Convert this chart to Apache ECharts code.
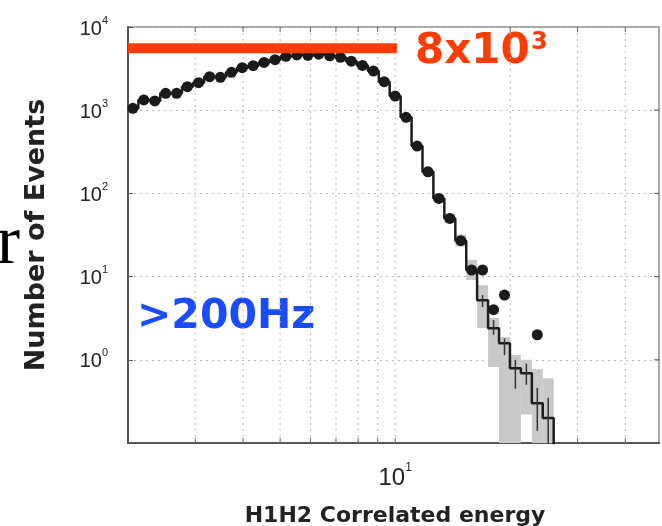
<!DOCTYPE html>
<html><head><meta charset="utf-8">
<script src="https://cdn.jsdelivr.net/npm/echarts@6/dist/echarts.min.js"></script>
<style>html,body{margin:0;padding:0;background:#fff}#c{width:662px;height:526px}</style>
</head><body><div id="c"></div>
<script>
// Bin centres (H1H2 correlated energy)
const binCenters = [2.06,2.20,2.35,2.51,2.68,2.86,3.06,3.27,3.49,3.73,3.98,4.25,4.54,4.85,5.18,5.53,5.91,6.31,6.74,7.19,7.68,8.21,8.77,9.36,10.0,10.68,11.41,12.18,13.01,13.90,14.85,15.85,16.93,18.09,19.32,20.63,22.04,23.54,25.14,26.85];
// Observed event counts (dots); null = no dot
const dataCounts = [1054,1327,1291,1596,1596,1915,2141,2527,2485,2856,3243,3428,3750,4050,4440,4610,4560,4720,4500,4330,3880,3450,2960,2200,1480,822,371,182,87,50,27,12,12,4,6,null,null,2,null,null];
// Histogram (step line) values; last bin empty (below axis)
const modelCounts = [1054,1327,1291,1596,1596,1915,2141,2527,2485,2856,3243,3428,3750,4050,4440,4610,4560,4720,4500,4330,3880,3450,2960,2200,1480,822,371,182,87,50,27,12,5.2,2.4,1.58,0.79,0.69,0.30,0.20,0.001];
// Grey uncertainty band per bin
const bandLow  = [null,null,null,null,null,null,null,null,null,null,null,null,null,null,null,null,null,null,null,null,null,null,null,null,null,null,null,null,78,44,23,9.1,2.4,0.82,0,0,0.22,0,0,null];
const bandHigh = [null,null,null,null,null,null,null,null,null,null,null,null,null,null,null,null,null,null,null,null,null,null,null,null,null,null,null,null,97,57,32,15.9,7.9,3.2,1.88,1.14,1.0,0.77,0.6,null];
// Vertical error bars per bin
const errLow  = [null,null,null,null,null,null,null,null,null,null,null,null,null,null,null,null,null,null,null,null,null,null,null,null,null,null,null,null,null,null,null,null,4.3,2.0,1.14,0.45,0.5,0.14,0,null];
const errHigh = [null,null,null,null,null,null,null,null,null,null,null,null,null,null,null,null,null,null,null,null,null,null,null,null,null,null,null,null,null,null,null,null,6.0,3.0,1.8,1.0,0.9,0.46,0.35,null];
// Reference level (red bar)
const refLevel = 5550;
const refRange = [2, 10.1];
// Axis ranges and grid values
const xRange = [2, 49];
const yRange = [0.1, 10000];
const xGridValues = [3,4,5,6,7,8,9,10,20,30,40];
const yDecades = [1,10,100,1000];

const chart = echarts.init(document.getElementById('c'));

const edgeL = i => i > 0 ? Math.sqrt(binCenters[i-1]*binCenters[i]) : binCenters[i];
const edgeR = i => i < binCenters.length-1 ? Math.sqrt(binCenters[i]*binCenters[i+1]) : binCenters[i];

const bandData = [];
bandHigh.forEach((h,i)=>{ if(h!=null) bandData.push([edgeL(i), edgeR(i), bandLow[i], h]); });
const errData = [];
errHigh.forEach((h,i)=>{ if(h!=null) errData.push([binCenters[i], errLow[i], h]); });
const dotData = [];
dataCounts.forEach((v,i)=>{ if(v!=null) dotData.push([binCenters[i], v]); });
const stepData = modelCounts.map((v,i)=>[binCenters[i], v]);

const yRich = {
  b:{fontFamily:'Liberation Sans, Arial', fontSize:20, color:'#222', verticalAlign:'bottom', lineHeight:24},
  s:{fontFamily:'Liberation Sans, Arial', fontSize:11, color:'#222', verticalAlign:'top', lineHeight:11}
};
const xRich = {
  b:{fontFamily:'Liberation Sans, Arial', fontSize:24, color:'#222', verticalAlign:'bottom', lineHeight:28},
  s:{fontFamily:'Liberation Sans, Arial', fontSize:12, color:'#222', verticalAlign:'top', lineHeight:12}
};
const expLabel = v => {
  const e = Math.round(Math.log10(v));
  return '{b|10}{s|' + e + '}';
};

chart.setOption({
  animation:false,
  backgroundColor:'#fff',
  grid:{left:128, right:2, top:27, bottom:83, show:true, borderColor:'#8a8a8a', borderWidth:1.5},
  xAxis:{type:'log', logBase:10, min:xRange[0], max:xRange[1],
    axisLine:{lineStyle:{color:'#555', width:2}},
    axisTick:{show:false}, splitLine:{show:false}, minorTick:{show:false},
    axisLabel:{margin:19, rich:xRich, formatter:v=>{
      const l = Math.log10(v); return Math.abs(l-Math.round(l))<1e-6 ? expLabel(v) : '';
    }}
  },
  yAxis:{type:'log', logBase:10, min:yRange[0], max:yRange[1],
    axisLine:{lineStyle:{color:'#555', width:2}},
    axisTick:{show:true, inside:true, length:5, lineStyle:{color:'#555'}},
    splitLine:{show:true, lineStyle:{color:'#b8b8b8', type:[2,4], width:1}},
    axisLabel:{margin:20, rich:yRich, formatter:v=> v < 0.5 ? '' : expLabel(v)}
  },
  series:[
    {type:'custom', z:1, silent:true, data:xGridValues.map(v=>[v, 1]),
     encode:{x:0, y:1},
     renderItem:(params, api)=>{
       const t = api.coord([api.value(0), yRange[1]]);
       const b = api.coord([api.value(0), yRange[0]]);
       return {type:'group', children:[
         {type:'line', shape:{x1:t[0],y1:t[1],x2:b[0],y2:b[1]}, style:{stroke:'#b8b8b8', lineWidth:1, lineDash:[2,4]}},
         {type:'line', shape:{x1:b[0],y1:b[1],x2:b[0],y2:b[1]-5}, style:{stroke:'#666', lineWidth:1}},
         {type:'line', shape:{x1:t[0],y1:t[1],x2:t[0],y2:t[1]+5}, style:{stroke:'#666', lineWidth:1}}
       ]};
     }},
    {type:'custom', z:1, silent:true, data:yDecades.map(v=>[xRange[1], v]),
     encode:{x:0, y:1},
     renderItem:(params, api)=>{
       const r = api.coord([xRange[1], api.value(1)]);
       return {type:'line', shape:{x1:r[0],y1:r[1],x2:r[0]-5,y2:r[1]}, style:{stroke:'#555', lineWidth:1}};
     }},
    {type:'custom', z:2, silent:true, data:bandData,
     encode:{x:[0,1], y:[2,3]},
     renderItem:(params, api)=>{
       const p1 = api.coord([api.value(0), api.value(3)]);
       const p2 = api.coord([api.value(1), Math.max(api.value(2), yRange[0])]);
       const rect = echarts.graphic.clipRectByRect({x:p1[0], y:p1[1], width:p2[0]-p1[0], height:p2[1]-p1[1]},
         {x:params.coordSys.x, y:params.coordSys.y, width:params.coordSys.width, height:params.coordSys.height});
       return rect && {type:'rect', shape:rect, style:{fill:'#c9c9c9'}};
     }},
    {type:'line', z:3, step:'middle', data:stepData, symbol:'none', clip:true,
     lineStyle:{color:'#1e1e1e', width:2.5}},
    {type:'custom', z:4, silent:true, data:errData,
     encode:{x:0, y:[1,2]},
     renderItem:(params, api)=>{
       const t = api.coord([api.value(0), api.value(2)]);
       const b = api.coord([api.value(0), Math.max(api.value(1), yRange[0])]);
       return {type:'line', shape:{x1:t[0],y1:t[1],x2:b[0],y2:b[1]}, style:{stroke:'#333', lineWidth:1.5}};
     }},
    {type:'scatter', z:5, data:dotData, symbol:'circle', symbolSize:11,
     itemStyle:{color:'#1a1a1a', opacity:1}},
    {type:'line', z:6, data:[[refRange[0], refLevel],[refRange[1], refLevel]], symbol:'none',
     lineStyle:{color:'#ff3c00', width:10, cap:'butt'}}
  ],
  graphic:[
    {type:'text', x:37, y:235, rotation:Math.PI/2, style:{text:'Number of Events', font:'bold 27px "DejaVu Sans"', fill:'#222', align:'center', verticalAlign:'middle'}},
    {type:'text', x:395, y:516, style:{text:'H1H2 Correlated energy', font:'bold 22px "DejaVu Sans"', fill:'#222', align:'center', verticalAlign:'middle'}},
    {type:'text', x:137, y:317, style:{text:'>200Hz', font:'bold 41px "DejaVu Sans"', fill:'#1a4cff', align:'left', verticalAlign:'middle'}},
    {type:'text', x:415, y:52, style:{text:'8x10', font:'bold 42px "DejaVu Sans"', fill:'#ff3c00', align:'left', verticalAlign:'middle'}},
    {type:'text', x:531, y:43, style:{text:'3', font:'bold 24px "DejaVu Sans"', fill:'#ff3c00', align:'left', verticalAlign:'middle'}},
    {type:'text', x:20, y:245, style:{text:'r', font:'70px "Liberation Serif"', fill:'#000', align:'right', verticalAlign:'middle'}}
  ]
});
</script></body></html>
